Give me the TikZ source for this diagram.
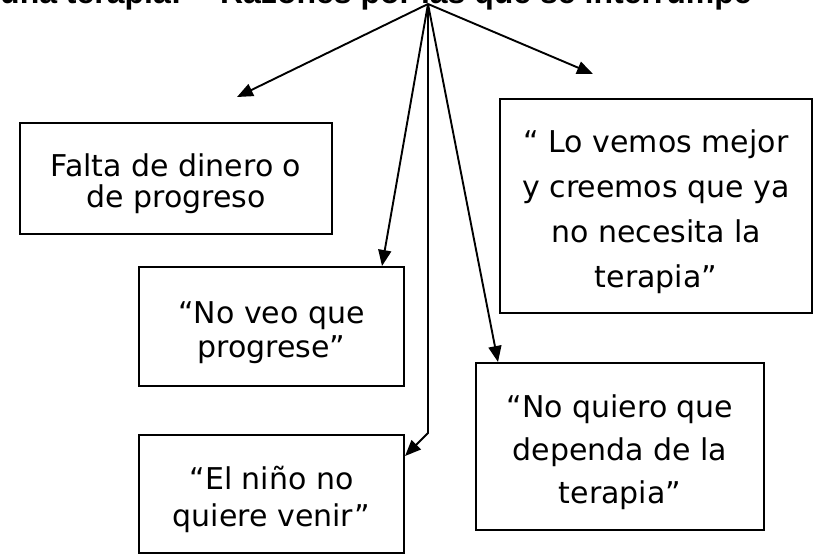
\documentclass[tikz,border=0pt]{standalone}
\usepackage{fontspec}
\setmainfont{DejaVu Sans}
\newfontfamily\titlefont{Liberation Sans}
\usepackage{tikz}
\usetikzlibrary{arrows.meta}

\begin{document}
\begin{tikzpicture}[
  x=1pt,y=1pt,
  box/.style 2 args={draw,line width=2pt,align=center,inner sep=0pt,
              text height=#2,font=\fontsize{30}{#1}\selectfont},
  arr/.style={-{Triangle[length=16pt,width=13pt]},line width=1.9pt}
]
\useasboundingbox (0,0) rectangle (821,-555);
\clip (0,0) rectangle (821,-555);

% Title (cut at the top)
\node[anchor=base west,inner sep=0pt,font=\titlefont\bfseries\fontsize{32}{34}\selectfont]
  (title) at (0,-3) {una terapia: – Razones por las que se interrumpe};
\coordinate (apex) at (428,-4);

% Reasons
\node[box={31}{65pt},minimum width=312,minimum height=111] (falta) at (176,-178.5)
  {Falta de dinero o\\de progreso};
\node[box={45}{169pt},minimum width=312,minimum height=214] (mejor) at (656,-206)
  {“ Lo vemos mejor\\y creemos que ya\\no necesita la\\terapia”};
\node[box={34}{68pt},minimum width=265,minimum height=119] (progrese) at (271.5,-326.5)
  {“No veo que\\progrese”};
\node[box={43}{120pt},minimum width=288,minimum height=167] (depende) at (620,-446.5)
  {“No quiero que\\dependa de la\\terapia”};
\node[box={37}{71pt},minimum width=265,minimum height=118] (venir) at (271.5,-494)
  {“El niño no\\quiere venir”};

% Free arrow ends
\coordinate (tipfalta) at (237,-97);
\coordinate (tipmejor) at (593,-74);
\coordinate (bend) at (428,-433);

% Arrows
\draw[arr] (apex) -- (tipfalta);
\draw[arr] (apex) -- (tipmejor);
\draw[arr] (apex) -- ([xshift=-23pt]progrese.north east);
\draw[arr] (apex) -- ([xshift=23pt]depende.north west);
\draw[arr] (apex) -- (bend) -- ([yshift=-22pt]venir.north east);
\end{tikzpicture}
\end{document}
